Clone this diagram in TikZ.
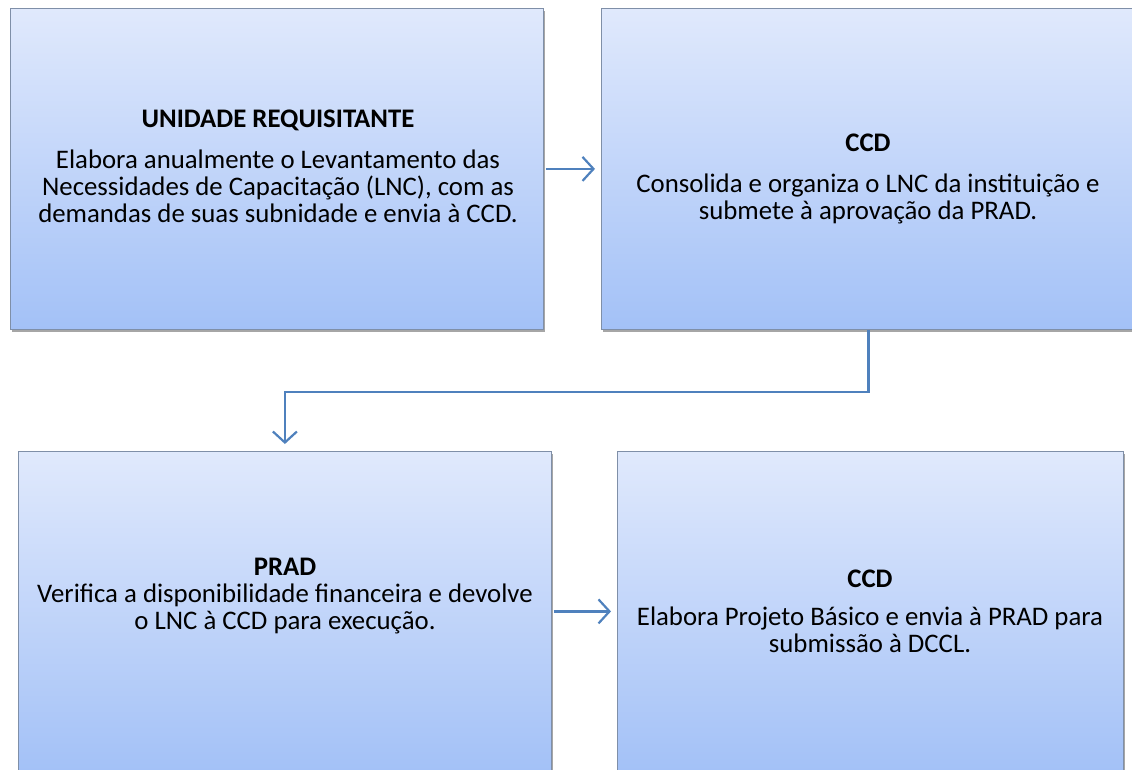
\documentclass[tikz,border=0pt]{standalone}
\usepackage{fontspec}
\setmainfont{Carlito}
\usetikzlibrary{arrows.meta,shadows}
\definecolor{boxtop}{HTML}{E0E9FC}
\definecolor{boxbot}{HTML}{A3C1F7}
\definecolor{boxedge}{HTML}{7F8FA8}
\definecolor{arrowblue}{HTML}{4F81BD}
\begin{document}
\begin{tikzpicture}[x=1pt,y=-1pt,
  procbox/.style={draw=boxedge, line width=0.8pt, top color=boxtop, bottom color=boxbot,
    anchor=north west, inner sep=0pt,
    drop shadow={shadow xshift=2pt, shadow yshift=-3pt, fill=black, opacity=0.35}},
  titletext/.style={font=\fontsize{26.8}{27}\selectfont\bfseries, anchor=base, inner sep=0pt},
  bodytext/.style={font=\fontsize{26.8}{27}\selectfont, align=center, anchor=base, inner sep=0pt},
  flow/.style={draw=arrowblue, line width=2.4pt, -{Straight Barb[length=11pt,width=24pt,line width=2.2pt]}}
]
\useasboundingbox (0,0) rectangle (1132,769);
\node[procbox, minimum width=533pt, minimum height=321pt] (b1) at (10,8) {};
\node[procbox, minimum width=534pt, minimum height=321pt] (b2) at (601,8) {};
\node[procbox, minimum width=533pt, minimum height=320pt] (b3) at (18,451) {};
\node[procbox, minimum width=506pt, minimum height=320pt] (b4) at (617,451) {};

% body nodes: anchor=base sits on the last line's baseline
\node[titletext] (t1) at (278,127) {UNIDADE REQUISITANTE};
\node[bodytext] (d1) at (278,222) {Elabora anualmente o Levantamento das\\Necessidades de Capacitação (LNC), com as\\demandas de suas subnidade e envia à CCD.};

\node[titletext] (t2) at (868,151) {CCD};
\node[bodytext] (d2) at (868,219) {Consolida e organiza o LNC da instituição e\\submete à aprovação da PRAD.};

\node[titletext] (t3) at (285,575) {PRAD};
\node[bodytext] (d3) at (285,629) {Verifica a disponibilidade financeira e devolve\\o LNC à CCD para execução.};

\node[titletext] (t4) at (870,587) {CCD};
\node[bodytext] (d4) at (870,652) {Elabora Projeto Básico e envia à PRAD para\\submissão à DCCL.};

\draw[flow] ([xshift=2pt]b1.east) -- ([xshift=-6pt]b2.west);
\draw[flow] (b2.south) -- ++(0,62) -| ([yshift=7pt]b3.north);
\draw[flow] ([xshift=2pt]b3.east) -- ([xshift=-6pt]b4.west);
\end{tikzpicture}
\end{document}
